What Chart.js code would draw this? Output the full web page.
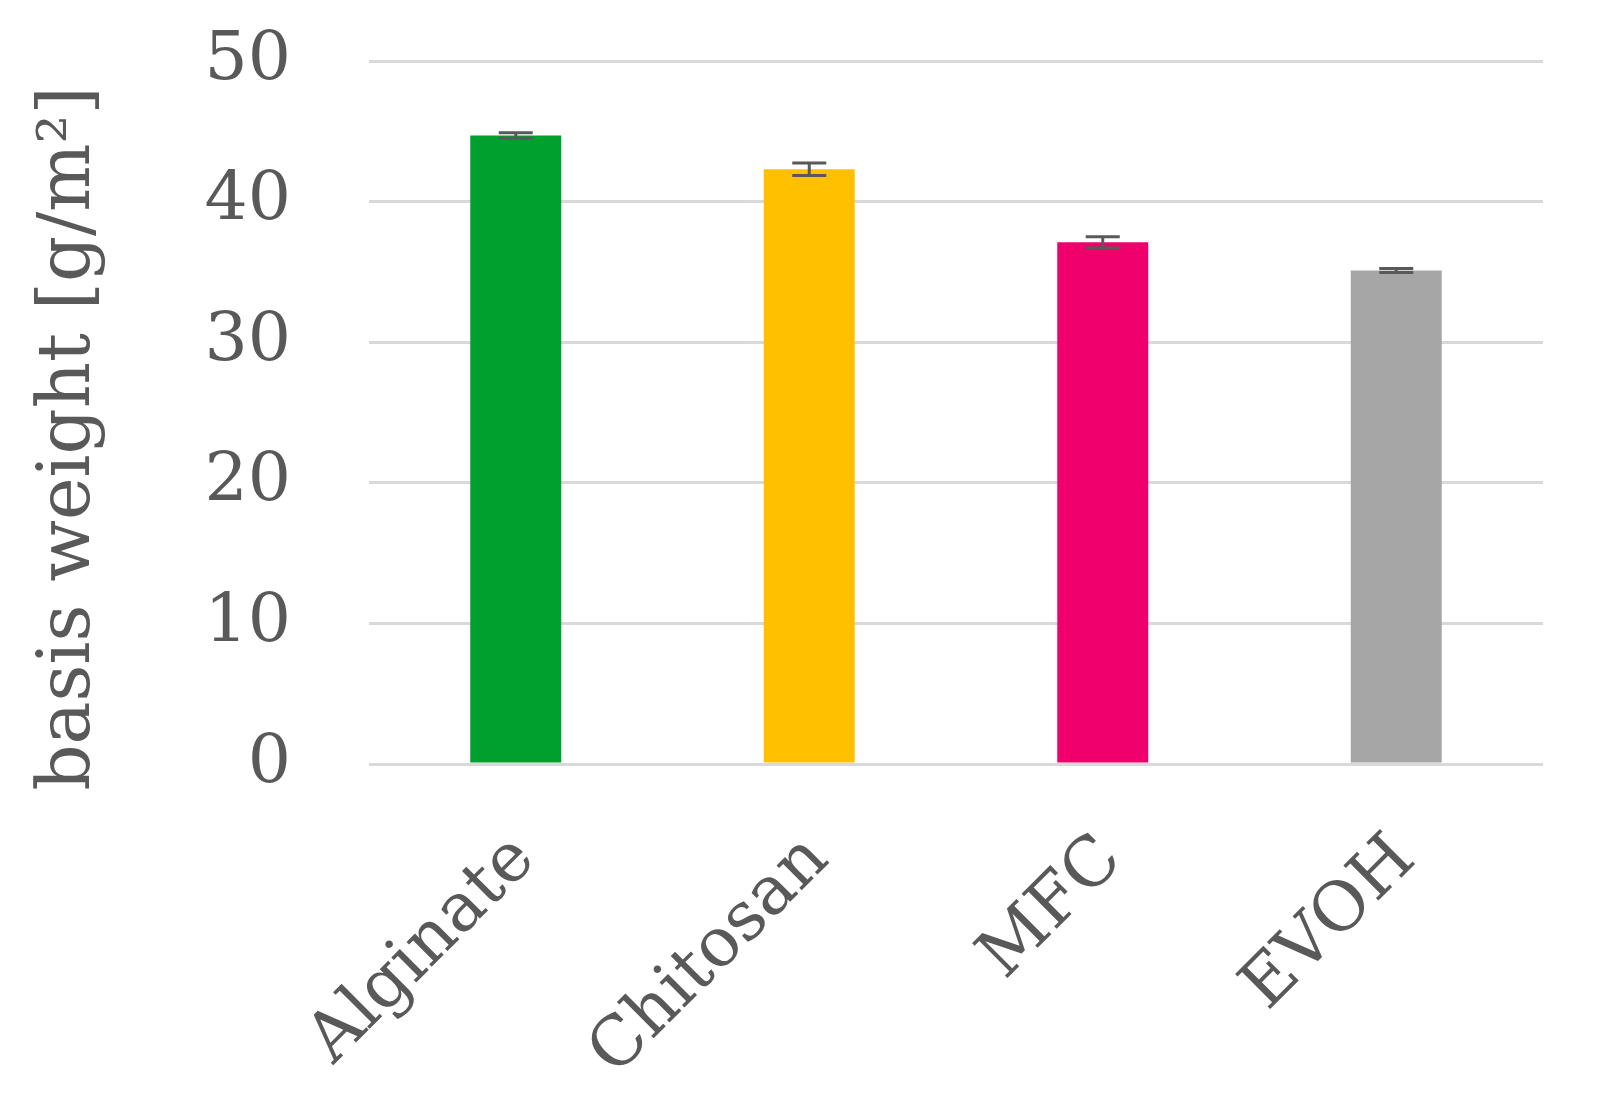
<!DOCTYPE html>
<html>
<head>
<meta charset="utf-8">
<script src="https://cdn.jsdelivr.net/npm/chart.js@4"></script>
<style>
  body { margin: 0; background: #fff; }
  #wrap { width: 1608px; height: 1102px; }
</style>
</head>
<body>
<div id="wrap"><canvas id="myChart"></canvas></div>
<script>
var labels = ["Alginate", "Chitosan", "MFC", "EVOH"];
var weights = [44.7, 42.3, 37.1, 35.1];
var errors = [0.2, 0.45, 0.4, 0.15];
var barColors = ["#00a02e", "#ffc000", "#f0006a", "#a6a6a6"];
var yTicks = [0, 10, 20, 30, 40, 50];
var yTitle = "basis weight [g/m²]";

var serif = "DejaVu Serif";

var errorBars = {
  id: "errorBars",
  afterDatasetsDraw: function(chart) {
    var ctx = chart.ctx;
    var y = chart.scales.y;
    var meta = chart.getDatasetMeta(0);
    ctx.save();
    ctx.strokeStyle = "#595959";
    ctx.lineWidth = 3;
    meta.data.forEach(function(bar, i) {
      var top = y.getPixelForValue(weights[i] + errors[i]);
      var bot = y.getPixelForValue(weights[i] - errors[i]);
      var half = 17;
      ctx.beginPath();
      ctx.moveTo(bar.x, top); ctx.lineTo(bar.x, bot);
      ctx.moveTo(bar.x - half, top); ctx.lineTo(bar.x + half, top);
      ctx.moveTo(bar.x - half, bot); ctx.lineTo(bar.x + half, bot);
      ctx.stroke();
    });
    ctx.restore();
  }
};

// axis title drawn by hand so it can sit a bit below the plot centre
var axisTitle = {
  id: "axisTitle",
  afterDraw: function(chart) {
    var ctx = chart.ctx;
    var a = chart.chartArea;
    ctx.save();
    ctx.translate(70, (a.top + a.bottom) / 2 + 26);
    ctx.rotate(-Math.PI / 2);
    ctx.fillStyle = "#595959";
    ctx.font = "72px '" + serif + "'";
    ctx.textAlign = "center";
    ctx.textBaseline = "middle";
    ctx.fillText(yTitle, 0, 0);
    ctx.restore();
  }
};

new Chart("myChart", {
  type: "bar",
  data: {
    labels: labels,
    datasets: [{
      data: weights,
      backgroundColor: barColors,
      barPercentage: 0.31,
      categoryPercentage: 1
    }]
  },
  options: {
    responsive: true,
    maintainAspectRatio: false,
    animation: false,
    layout: { padding: { top: 61, right: 65, left: 0, bottom: 0 } },
    plugins: { legend: { display: false }, tooltip: { enabled: false } },
    scales: {
      x: {
        afterFit: function(axis) { axis.height = 338; },
        grid: { display: false },
        border: { display: false },
        ticks: {
          color: "#595959",
          font: { family: serif, size: 68 },
          minRotation: 45,
          maxRotation: 45,
          padding: 48,
          labelOffset: 9
        }
      },
      y: {
        min: 0,
        max: 50,
        afterBuildTicks: function(axis) {
          axis.ticks = yTicks.map(function(v) { return { value: v }; });
        },
        afterFit: function(axis) {
          axis.width = 369;
          axis.paddingTop = 0;
          axis.paddingBottom = 0;
        },
        grid: { color: "#d9d9d9", lineWidth: 3, drawTicks: false },
        border: { display: false },
        ticks: {
          color: "#595959",
          font: { family: serif, size: 68 },
          padding: 78
        }
      }
    }
  },
  plugins: [errorBars, axisTitle]
});
</script>
</body>
</html>
